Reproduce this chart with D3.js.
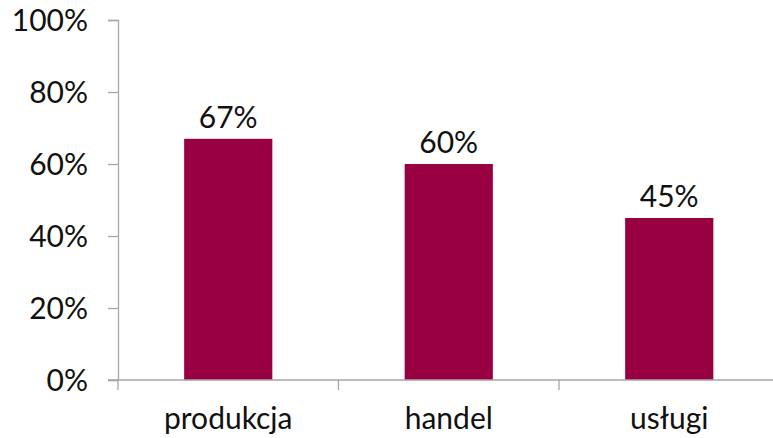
<!DOCTYPE html>
<html>
<head>
<meta charset="utf-8">
<script src="https://cdnjs.cloudflare.com/ajax/libs/d3/7.8.5/d3.min.js"></script>
<style>
  body { margin: 0; background: #fff; }
  svg text { font-family: Lato, "Open Sans", sans-serif; fill: #111; }
</style>
</head>
<body>
<div id="chart"></div>
<script>
'use strict';

var categories = ['produkcja', 'handel', 'usługi']
var values = [0.67, 0.60, 0.45]
var yTicks = [0, 0.2, 0.4, 0.6, 0.8, 1.0]

var width = 773
var height = 438
var plotLeft = 118, plotTop = 20, plotBottom = 380
var axisRight = 779.5
var fontSize = '30px'

var svg = d3.select('#chart').append('svg')
    .attr('width', width).attr('height', height)

var x = d3.scaleBand()
    .domain(categories)
    .range([plotLeft, axisRight])
    .paddingInner(0.6)
    .paddingOuter(0.3)

var y = d3.scaleLinear().domain([0, 1]).range([plotBottom, plotTop])

var fmt = d3.format('.0%')

// bars
svg.selectAll('rect.bar')
    .data(values)
    .enter().append('rect')
    .attr('class', 'bar')
    .attr('x', function(d, i) { return x(categories[i]) })
    .attr('width', x.bandwidth())
    .attr('y', function(d) { return y(d) })
    .attr('height', function(d) { return y(0) - y(d) })
    .attr('fill', '#990041')

// value labels
svg.selectAll('text.val')
    .data(values)
    .enter().append('text')
    .attr('class', 'val')
    .attr('x', function(d, i) { return x(categories[i]) + x.bandwidth() / 2 })
    .attr('y', function(d) { return y(d) - 11 })
    .attr('text-anchor', 'middle')
    .style('font-size', fontSize)
    .text(function(d) { return fmt(d) })

// y axis
var yAxis = svg.append('g')
    .attr('transform', 'translate(' + plotLeft + ',0)')
    .call(d3.axisLeft(y).tickValues(yTicks).tickFormat(fmt).tickSize(10).tickPadding(20))
yAxis.select('.domain').attr('stroke', '#a6a6a6').attr('stroke-width', 1.3)
yAxis.selectAll('.tick line').attr('stroke', '#a6a6a6').attr('stroke-width', 1.3)
yAxis.selectAll('.tick text').style('font-size', fontSize).attr('fill', '#111')
    .attr('dy', '0.36em')

// x axis
var steps = [plotLeft]
for (var i = 1; i <= categories.length; i++) steps.push(plotLeft + i * x.step())
var xg = svg.append('g')
xg.append('line')
    .attr('x1', plotLeft - 10).attr('x2', axisRight)
    .attr('y1', plotBottom).attr('y2', plotBottom)
    .attr('stroke', '#a6a6a6').attr('stroke-width', 1.3)
xg.selectAll('line.tk')
    .data(steps)
    .enter().append('line')
    .attr('class', 'tk')
    .attr('x1', function(d) { return d }).attr('x2', function(d) { return d })
    .attr('y1', plotBottom).attr('y2', plotBottom + 10)
    .attr('stroke', '#a6a6a6').attr('stroke-width', 1.3)
xg.selectAll('text.cat')
    .data(categories)
    .enter().append('text')
    .attr('class', 'cat')
    .attr('x', function(d) { return x(d) + x.bandwidth() / 2 })
    .attr('y', 429)
    .attr('text-anchor', 'middle')
    .style('font-size', fontSize)
    .text(function(d) { return d })
</script>
</body>
</html>
